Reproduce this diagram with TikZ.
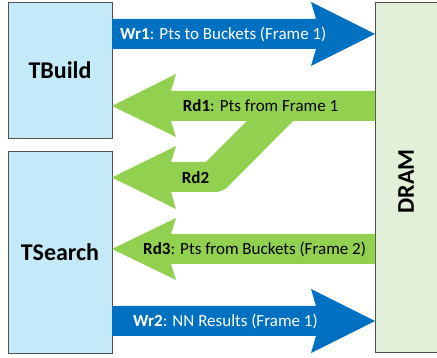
\documentclass[tikz,border=0pt]{standalone}
\usepackage{fontspec}
\setmainfont{Carlito}
\definecolor{wrblue}{HTML}{0070C0}
\definecolor{rdgreen}{HTML}{92D050}
\definecolor{unitfill}{HTML}{C4EAF8}
\definecolor{memfill}{HTML}{E2F0D9}
\definecolor{edgegray}{HTML}{505050}
\tikzset{
  unitbox/.style={draw=edgegray, line width=0.9pt, inner sep=0pt,
    font=\fontsize{24}{28}\selectfont\bfseries},
  wrarrow/.style={fill=wrblue},
  rdarrow/.style={fill=rdgreen},
  wrlabel/.style={text=white, inner sep=0pt, anchor=west,
    font=\fontsize{17}{20}\selectfont},
  rdlabel/.style={text=black, inner sep=0pt,
    font=\fontsize{17}{20}\selectfont},
}
\begin{document}
\begin{tikzpicture}[x=1pt,y=-1pt]
\useasboundingbox (0,0) rectangle (437,358);

% processing units and memory
\node[unitbox, fill=unitfill, minimum width=104pt, minimum height=136pt] (tbuild) at (60,70) {TBuild};
\node[unitbox, fill=unitfill, minimum width=104pt, minimum height=202pt] (tsearch) at (60,252) {TSearch};
\node[draw=edgegray, line width=0.9pt, fill=memfill, minimum width=65pt, minimum height=350pt, inner sep=0pt] (dram) at (407.5,177) {};
\node[font=\fontsize{24}{28}\selectfont\bfseries, rotate=90, inner sep=0pt] (dramlabel) at (406,181.5) {DRAM};

% Wr1: TBuild -> DRAM
\fill[wrarrow] (112,19) -- (316,19) -- (311,2) -- (375,34) -- (311,66) -- (316,49) -- (112,49) -- cycle;
% Rd1: DRAM -> TBuild
\fill[rdarrow] (375,91) -- (171,91) -- (176,74) -- (112,106) -- (176,137) -- (171,121) -- (375,121) -- cycle;
% Rd2: branch of Rd1 bending down to TSearch
\fill[rdarrow] (252,116) -- (206,162) -- (171,162) -- (176,146) -- (112,177.5) -- (176,209) -- (171,192)
  -- (214,192) to[out=0,in=225] (228,186.5) -- (298,116) -- cycle;
% Rd3: DRAM -> TSearch
\fill[rdarrow] (375,234) -- (171,234) -- (176,218) -- (112,249) -- (176,280) -- (171,264) -- (375,264) -- cycle;
% Wr2: TSearch -> DRAM
\fill[wrarrow] (112,306) -- (316,306) -- (311,289) -- (375,321) -- (311,353) -- (316,336) -- (112,336) -- cycle;

% transfer labels
\node[wrlabel] (wr1) at (120,34) {\textbf{Wr1}: Pts to Buckets (Frame 1)};
\node[rdlabel] (rd1) at (260.5,106) {\textbf{Rd1}: Pts from Frame 1};
\node[rdlabel] (rd2) at (195.5,178) {\textbf{Rd2}};
\node[rdlabel, anchor=west] (rd3) at (143,249) {\textbf{Rd3}: Pts from Buckets (Frame 2)};
\node[wrlabel] (wr2) at (133,321) {\textbf{Wr2}: NN Results (Frame 1)};
\end{tikzpicture}
\end{document}
